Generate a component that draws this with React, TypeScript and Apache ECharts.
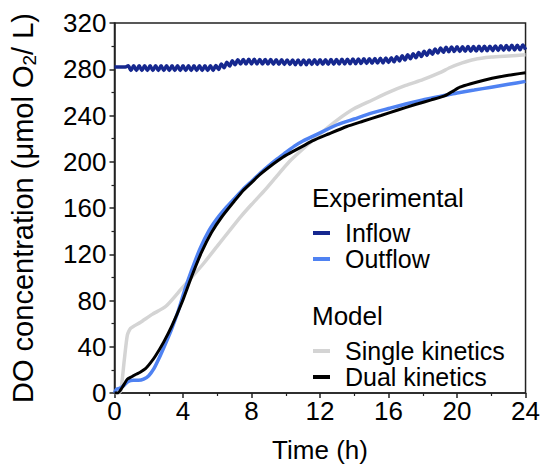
import React, { useEffect, useRef } from "react";
import * as echarts from "echarts";

// Experimental inflow [time (h), DO (µmol O2/L)]
const inflow: [number, number][] = [
  [0, 282], [0.16, 282], [0.32, 282], [0.48, 282], [0.64, 282],
  [0.8, 283], [0.96, 279], [1.12, 283], [1.28, 279], [1.44, 283], [1.6, 279], [1.76, 283], [1.92, 279],
  [2.08, 283], [2.24, 279], [2.4, 283], [2.56, 279], [2.72, 283], [2.88, 279], [3.04, 283], [3.2, 279],
  [3.36, 283], [3.52, 279], [3.68, 283], [3.84, 279], [4.0, 283], [4.16, 279], [4.32, 283], [4.48, 279],
  [4.64, 283], [4.8, 279], [4.96, 283], [5.12, 279], [5.28, 283], [5.44, 279], [5.6, 283], [5.76, 279],
  [5.92, 283.3], [6.08, 279.8], [6.24, 284.5], [6.4, 281.3], [6.56, 286], [6.72, 282.8], [6.88, 287.4],
  [7.04, 283.9], [7.2, 288.3], [7.36, 284.5], [7.52, 288.5], [7.68, 284.5], [7.84, 288.6], [8.0, 284.6],
  [8.16, 288.6], [8.32, 284.6], [8.48, 288.5], [8.64, 284.5], [8.8, 288.5], [8.96, 284.5], [9.12, 288.4],
  [9.28, 284.4], [9.44, 288.3], [9.6, 284.3], [9.76, 288.2], [9.92, 284.2], [10.08, 288.1], [10.24, 284.1],
  [10.4, 288], [10.56, 284], [10.72, 288], [10.88, 284], [11.04, 288], [11.2, 284], [11.36, 288.1],
  [11.52, 284.1], [11.68, 288.2], [11.84, 284.2], [12.0, 288.3], [12.16, 284.3], [12.32, 288.3],
  [12.48, 284.3], [12.64, 288.4], [12.8, 284.4], [12.96, 288.5], [13.12, 284.5], [13.28, 288.6],
  [13.44, 284.6], [13.6, 288.7], [13.76, 284.7], [13.92, 288.8], [14.08, 284.8], [14.24, 288.9],
  [14.4, 284.9], [14.56, 289], [14.72, 285], [14.88, 289.1], [15.04, 285.1], [15.2, 289.3], [15.36, 285.3],
  [15.52, 289.5], [15.68, 285.5], [15.84, 289.7], [16.0, 285.8],
  [16.16, 290], [16.32, 286.4], [16.48, 290.8], [16.64, 287.2], [16.8, 291.6], [16.96, 288],
  [17.12, 292.5], [17.28, 289], [17.44, 293.5], [17.6, 290], [17.76, 294.5], [17.92, 291],
  [18.08, 295.5], [18.24, 292], [18.4, 296.5], [18.56, 293], [18.72, 297.5], [18.88, 294],
  [19.04, 298.4], [19.2, 294.7], [19.36, 299], [19.52, 295.2], [19.68, 299.3], [19.84, 295.3],
  [20.0, 299.4], [20.16, 295.4], [20.32, 299.5], [20.48, 295.5], [20.64, 299.6], [20.8, 295.6],
  [20.96, 299.7], [21.12, 295.7], [21.28, 299.8], [21.44, 295.8], [21.6, 299.9], [21.76, 296],
  [21.92, 300], [22.08, 296.1], [22.24, 300.2], [22.4, 296.3], [22.56, 300.4], [22.72, 296.5],
  [22.88, 300.5], [23.04, 296.6], [23.2, 300.7], [23.36, 296.7], [23.52, 300.8], [23.68, 296.9],
  [23.84, 301], [24.0, 297],
];

// Experimental outflow
const outflow: [number, number][] = [
  [0, 0], [0.1, 3], [0.3, 4], [0.5, 6], [0.8, 10], [1.1, 11], [1.4, 11], [1.7, 12], [2.0, 15],
  [2.3, 21], [2.6, 30], [2.9, 40], [3.3, 54], [3.7, 70], [4.1, 89], [4.5, 106], [5.0, 125],
  [5.5, 140], [6.0, 151], [6.5, 160], [7.0, 168], [7.5, 176], [8, 183], [8.5, 190], [9, 196.5],
  [9.5, 202.5], [10, 208], [10.5, 213.5], [11, 218], [12, 225], [13, 232], [14, 237], [15, 242],
  [16, 246], [17, 250], [18, 253.5], [19, 256.5], [19.5, 258], [20, 259.5], [21, 262], [22, 264.5],
  [23, 267], [24, 269.5],
];

// Model: single kinetics
const singleKinetics: [number, number][] = [
  [0, 0], [0.2, 0], [0.37, 2], [0.56, 27], [0.75, 50], [0.94, 56], [1.5, 61], [2.2, 68], [3, 75],
  [3.9, 90], [4.5, 100], [5.2, 112], [6, 127], [6.8, 142], [7.4, 153], [8, 163], [8.75, 175],
  [9.5, 188], [10.2, 200], [11, 211], [12, 224], [13, 236], [14, 246], [15, 253], [16, 260],
  [17, 266], [18, 271], [19, 277], [19.6, 281.5], [20.3, 285.5], [21, 288.5], [22, 290.5],
  [23, 291.5], [24, 292.5],
];

// Model: dual kinetics
const dualKinetics: [number, number][] = [
  [0, 0], [0.2, 0], [0.46, 5], [0.75, 12], [1.0, 14], [1.23, 16], [1.5, 18], [1.81, 21], [2.1, 26],
  [2.39, 32], [2.87, 44], [3.35, 58], [3.93, 78], [4.51, 101], [5.09, 122], [5.67, 139],
  [6.25, 152], [7.0, 166], [7.5, 175], [8, 182], [8.5, 189], [9, 195], [9.55, 201], [10, 205.5],
  [11, 213.5], [11.55, 218], [12.5, 224], [13.56, 230.5], [14.5, 235], [15.56, 240], [16.5, 244.5],
  [17.56, 249.5], [18.5, 253.5], [19.27, 257], [19.7, 260.5], [20.17, 264.5], [20.8, 267.5],
  [21.57, 270.5], [22.5, 273.5], [23.3, 275.5], [24, 277],
];

const xTicks = { min: 0, max: 24, interval: 4 };
const yTicks = { min: 0, max: 320, interval: 40 };

const COLORS = {
  inflow: "#16288f",
  outflow: "#4f82f2",
  single: "#d4d4d4",
  dual: "#000000",
};

const FONT = "'Liberation Sans', Arial, sans-serif";

export default function App() {
  const ref = useRef<HTMLDivElement>(null);
  useEffect(() => {
    if (!ref.current) return;
    const chart = echarts.init(ref.current, undefined, { renderer: "svg" });
    const legendText = (x: number, y: number, label: string, size: number) => ({
      type: "text",
      x,
      y,
      style: {
        text: label,
        font: `${size}px ${FONT}`,
        fill: "#000",
        verticalAlign: "middle",
        lineHeight: 22,
      },
    });
    const legendItem = (y: number, color: string, label: string) => [
      {
        type: "line",
        shape: { x1: 313, y1: y, x2: 330, y2: y },
        style: { stroke: color, lineWidth: 4 },
      },
      legendText(345, y, label, 25),
    ];
    chart.setOption({
      animation: false,
      backgroundColor: "#fff",
      grid: {
        left: 112,
        right: 16,
        top: 23,
        bottom: 70,
        show: true,
        borderColor: "#222",
        borderWidth: 1.5,
      },
      xAxis: {
        type: "value",
        ...xTicks,
        name: "Time (h)",
        nameLocation: "middle",
        nameGap: 44,
        nameTextStyle: { fontSize: 26, fontFamily: FONT, color: "#000" },
        axisLine: { show: true, lineStyle: { color: "#222", width: 1.5 } },
        axisTick: { show: true, inside: false, length: 5, lineStyle: { color: "#222", width: 1.5 } },
        minorTick: { show: true, splitNumber: 2, length: 3, lineStyle: { color: "#222", width: 1.2 } },
        axisLabel: { fontSize: 26, fontFamily: FONT, color: "#000", margin: 5 },
        splitLine: { show: false },
      },
      yAxis: {
        type: "value",
        ...yTicks,
        name: "{a|DO concentration (μmol O}{s|2}{a|/ L)}",
        nameLocation: "middle",
        nameGap: 76,
        nameRotate: 90,
        nameTextStyle: {
          fontFamily: FONT,
          color: "#000",
          rich: {
            a: { fontSize: 29, fontFamily: FONT, color: "#000", lineHeight: 32 },
            s: { fontSize: 19, fontFamily: FONT, color: "#000", lineHeight: 32, verticalAlign: "bottom", padding: [10, 0, 0, 0] },
          },
        },
        axisLine: { show: true, lineStyle: { color: "#222", width: 1.5 } },
        axisTick: { show: true, inside: false, length: 5, lineStyle: { color: "#222", width: 1.5 } },
        minorTick: { show: true, splitNumber: 2, length: 3, lineStyle: { color: "#222", width: 1.2 } },
        axisLabel: { fontSize: 26, fontFamily: FONT, color: "#000", margin: 8 },
        splitLine: { show: false },
      },
      series: [
        {
          name: "Single kinetics",
          type: "line",
          data: singleKinetics,
          showSymbol: false,
          smooth: 0.2,
          lineStyle: { color: COLORS.single, width: 3.5 },
          z: 2,
        },
        {
          name: "Outflow",
          type: "line",
          data: outflow,
          showSymbol: false,
          smooth: 0.2,
          lineStyle: { color: COLORS.outflow, width: 3.5 },
          z: 3,
        },
        {
          name: "Dual kinetics",
          type: "line",
          data: dualKinetics,
          showSymbol: false,
          smooth: 0.2,
          lineStyle: { color: COLORS.dual, width: 3 },
          z: 4,
        },
        {
          name: "Inflow",
          type: "line",
          data: inflow,
          showSymbol: false,
          smooth: 0.3,
          lineStyle: { color: COLORS.inflow, width: 3.5 },
          z: 5,
        },
      ],
      graphic: [
        legendText(312, 197.5, "Experimental", 26),
        ...legendItem(233, COLORS.inflow, "Inflow"),
        ...legendItem(259, COLORS.outflow, "Outflow"),
        legendText(312, 316, "Model", 26),
        ...legendItem(351, COLORS.single, "Single kinetics"),
        ...legendItem(377, COLORS.dual, "Dual kinetics"),
      ],
    });
    return () => chart.dispose();
  }, []);
  return (
    <div
      ref={ref}
      style={{ position: "fixed", left: 0, top: 0, width: 543, height: 468 }}
    />
  );
}
